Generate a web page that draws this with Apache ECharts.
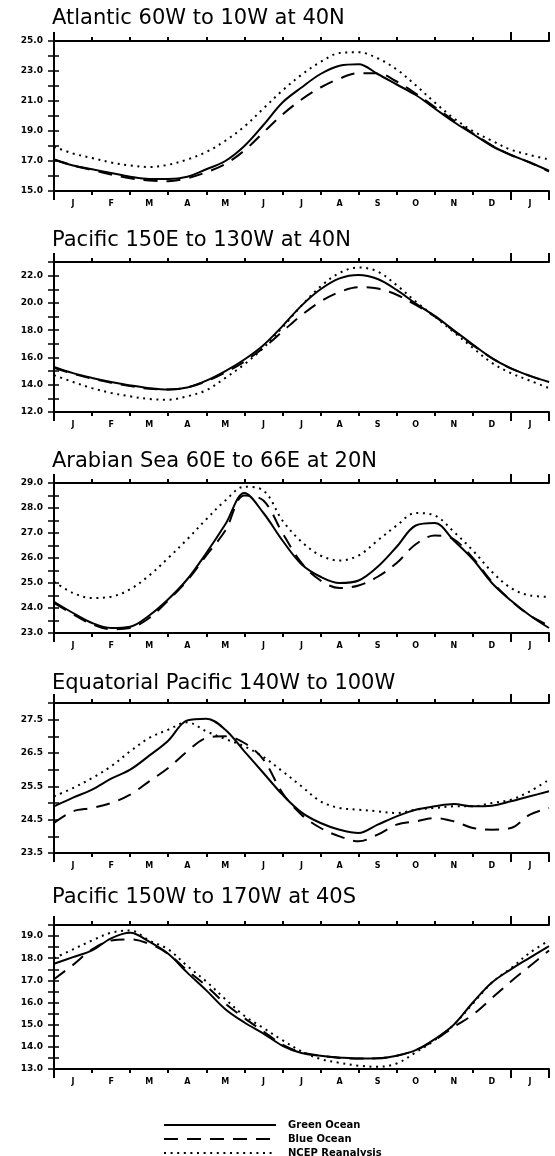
<!DOCTYPE html>
<html>
<head>
<meta charset="utf-8">
<script src="https://cdn.jsdelivr.net/npm/echarts@6/dist/echarts.min.js"></script>
<style>
html,body{margin:0;padding:0;background:#fff;}
#chart{width:555px;height:1156px;}
</style>
</head>
<body>
<div id="chart"></div>
<script>
// Month labels (13 months, Jan..Jan)
var monthLabels = ['J','F','M','A','M','J','J','A','S','O','N','D','J'];
// Sample positions in months from start of January
var monthPos = [0,0.5,1,1.5,2,2.5,3,3.5,4,4.5,5,5.5,6,6.5,7,7.5,8,8.5,9,9.5,10,10.5,11,11.5,12,12.5,13];

var panelTitles = [
  'Atlantic 60W to 10W at 40N',
  'Pacific 150E to 130W at 40N',
  'Arabian Sea 60E to 66E at 20N',
  'Equatorial Pacific 140W to 100W',
  'Pacific 150W to 170W at 40S'
];
var seriesNames = ['Green Ocean', 'Blue Ocean', 'NCEP Reanalysis'];

// y-axis ranges: [min, max, tick step, label step]
var yMin = [15, 12, 23, 23.5, 13];
var yMax = [25, 23, 29, 28, 19.5];
var yTick = [1, 1, 0.5, 0.5, 0.5];
var yLabelStep = [2, 2, 1, 1, 1];

// Panel 1: Atlantic
var atlGreen = [17.1,16.7,16.45,16.2,15.95,15.8,15.8,15.95,16.45,17.0,18.0,19.4,20.9,21.9,22.8,23.35,23.45,22.8,22.1,21.4,20.5,19.6,18.8,18.0,17.4,16.9,16.35];
var atlBlue  = [17.1,16.7,16.4,16.1,15.85,15.7,15.65,15.85,16.25,16.8,17.7,18.9,20.1,21.1,21.9,22.5,22.85,22.85,22.3,21.5,20.6,19.7,18.85,18.05,17.4,16.9,16.3];
var atlNcep  = [17.95,17.5,17.2,16.9,16.7,16.6,16.75,17.1,17.6,18.35,19.3,20.5,21.7,22.75,23.6,24.2,24.25,23.85,23.1,22.05,20.9,19.85,19.0,18.35,17.75,17.4,17.1];

// Panel 2: Pacific 40N
var pacNGreen = [15.3,14.85,14.5,14.2,13.95,13.75,13.65,13.8,14.3,15.0,15.85,16.9,18.3,19.8,21.0,21.8,22.05,21.75,20.95,19.95,19.05,18.0,16.95,15.95,15.2,14.65,14.2];
var pacNBlue  = [15.25,14.8,14.45,14.15,13.9,13.7,13.65,13.8,14.25,14.9,15.7,16.7,17.9,19.1,20.1,20.8,21.15,21.05,20.6,19.85,19.0,17.95,16.9,15.95,15.2,14.65,14.2];
var pacNNcep  = [14.7,14.2,13.75,13.4,13.15,12.95,12.9,13.15,13.6,14.5,15.5,16.7,18.2,19.8,21.2,22.2,22.6,22.3,21.3,20.1,19.0,17.85,16.7,15.6,14.85,14.3,13.75];

// Panel 3: Arabian Sea
var arbGreen = [24.25,23.8,23.4,23.2,23.25,23.7,24.35,25.15,26.2,27.35,28.6,27.8,26.7,25.75,25.25,25.0,25.1,25.65,26.45,27.3,27.4,26.7,25.95,25.0,24.3,23.7,23.2];
var arbBlue  = [24.2,23.75,23.35,23.15,23.2,23.6,24.3,25.1,26.1,27.1,28.5,28.3,27.0,25.8,25.1,24.8,24.9,25.25,25.8,26.55,26.9,26.75,26.0,25.05,24.3,23.7,23.3];
var arbNcep  = [25.05,24.6,24.4,24.45,24.75,25.3,26.0,26.75,27.55,28.3,28.85,28.7,27.5,26.65,26.1,25.9,26.1,26.7,27.3,27.8,27.7,27.05,26.3,25.45,24.8,24.5,24.45];

// Panel 4: Equatorial Pacific
var eqGreen = [24.9,25.16,25.4,25.73,26.0,26.42,26.87,27.48,27.53,27.2,26.55,25.9,25.25,24.72,24.4,24.2,24.1,24.35,24.6,24.8,24.9,24.97,24.9,24.92,25.05,25.2,25.35];
var eqBlue  = [24.4,24.75,24.85,25.0,25.25,25.65,26.05,26.55,26.95,27.0,26.8,26.3,25.3,24.65,24.25,24.0,23.85,24.05,24.35,24.45,24.55,24.45,24.25,24.2,24.25,24.65,24.85];
var eqNcep  = [25.2,25.45,25.75,26.1,26.55,26.95,27.2,27.42,27.15,26.92,26.7,26.38,25.95,25.5,25.05,24.85,24.8,24.75,24.7,24.8,24.85,24.9,24.9,25.0,25.1,25.35,25.7];

// Panel 5: Pacific 40S
var pacSGreen = [17.75,18.05,18.35,18.9,19.15,18.75,18.2,17.35,16.55,15.7,15.1,14.6,14.05,13.72,13.6,13.52,13.47,13.48,13.6,13.85,14.35,15.0,16.0,16.9,17.5,18.03,18.55];
var pacSBlue  = [17.05,17.7,18.4,18.8,18.85,18.65,18.2,17.45,16.75,15.95,15.3,14.7,14.1,13.75,13.6,13.5,13.47,13.48,13.6,13.85,14.3,14.9,15.45,16.2,16.95,17.65,18.35];
var pacSNcep  = [18.0,18.4,18.8,19.15,19.25,18.8,18.4,17.65,16.95,16.15,15.4,14.85,14.3,13.8,13.45,13.28,13.15,13.1,13.25,13.75,14.3,15.0,15.95,16.9,17.55,18.25,18.8];

var panelData = [
  [atlGreen, atlBlue, atlNcep],
  [pacNGreen, pacNBlue, pacNNcep],
  [arbGreen, arbBlue, arbNcep],
  [eqGreen, eqBlue, eqNcep],
  [pacSGreen, pacSBlue, pacSNcep]
];

// ---- layout ----
var gridTop = [41, 262, 483, 703, 925];
var gridH = [150, 150, 150, 150, 144];
var titleTop = [8, 230, 451, 673, 887];
var legendTop = [1115, 1129, 1143];
var lineTypes = ['solid', [14, 9], [2, 4.6]];

var black = '#000';
var option = {
  backgroundColor: '#fff',
  animation: false,
  title: [], grid: [], xAxis: [], yAxis: [], series: [],
  legend: seriesNames.map(function (n, i) {
    return {
      orient: 'vertical', left: 158, top: legendTop[i],
      itemWidth: 112, itemHeight: 12, itemGap: 0,
      data: [n],
      itemStyle: {opacity: 0},
      textStyle: {fontFamily: 'DejaVu Sans', fontWeight: 'bold', fontSize: 10, color: black, padding: [0,0,0,7]}
    };
  })
};

for (var p = 0; p < 5; p++) {
  option.title.push({
    text: panelTitles[p], left: 52, top: titleTop[p], padding: 0,
    textStyle: {fontFamily: 'DejaVu Sans', fontWeight: 'normal', fontSize: 21, color: black}
  });
  option.grid.push({left: 54, width: 495, top: gridTop[p], height: gridH[p]});
  var xi = option.xAxis.length;
  var catData = monthLabels.map(function (m, i) { return String(i); });
  // bottom month axis
  option.xAxis.push({
    type: 'category', gridIndex: p, position: 'bottom', data: catData, boundaryGap: true,
    axisLine: {show: true, lineStyle: {color: black, width: 2}},
    axisTick: {show: true, length: 4, lineStyle: {color: black, width: 2}},
    axisLabel: {show: true, margin: 9, formatter: function (v, i) { return monthLabels[i]; },
      fontFamily: 'DejaVu Sans', fontWeight: 'bold', fontSize: 8, color: black},
    splitLine: {show: false}
  });
  // top month axis
  option.xAxis.push({
    type: 'category', gridIndex: p, position: 'top', data: catData, boundaryGap: true,
    axisLine: {show: true, lineStyle: {color: black, width: 2}},
    axisTick: {show: true, length: 4, lineStyle: {color: black, width: 2}},
    axisLabel: {show: false}, splitLine: {show: false}
  });
  // value axis for data (bottom) with long year ticks
  option.xAxis.push({
    type: 'value', gridIndex: p, position: 'bottom', min: 0, max: 13, interval: 12,
    axisLine: {show: false},
    axisTick: {show: true, length: 9, lineStyle: {color: black, width: 2}},
    axisLabel: {show: false}, splitLine: {show: false}
  });
  option.xAxis.push({
    type: 'value', gridIndex: p, position: 'top', min: 0, max: 13, interval: 12,
    axisLine: {show: false},
    axisTick: {show: true, length: 9, lineStyle: {color: black, width: 2}},
    axisLabel: {show: false}, splitLine: {show: false}
  });
  var yi = option.yAxis.length;
  (function (pp) {
    option.yAxis.push({
      type: 'value', gridIndex: pp, position: 'left', min: yMin[pp], max: yMax[pp], interval: yTick[pp],
      axisLine: {show: true, lineStyle: {color: black, width: 2}},
      axisTick: {show: true, length: 6, lineStyle: {color: black, width: 1.5}},
      axisLabel: {show: true, margin: 11, fontFamily: 'DejaVu Sans', fontWeight: 'bold', fontSize: 9, color: black,
        formatter: function (v) {
          var k = (v - yMin[pp]) / yLabelStep[pp];
          if (Math.abs(k - Math.round(k)) > 1e-6) return '';
          return v.toFixed(1);
        }},
      splitLine: {show: false}
    });
    option.yAxis.push({
      type: 'value', gridIndex: pp, position: 'right', min: yMin[pp], max: yMax[pp], interval: yTick[pp],
      axisLine: {show: true, lineStyle: {color: black, width: 2}},
      axisTick: {show: true, length: 5, lineStyle: {color: black, width: 1.5}},
      axisLabel: {show: false}, splitLine: {show: false}
    });
  })(p);
  for (var s = 0; s < 3; s++) {
    var vals = panelData[p][s];
    option.series.push({
      type: 'line', name: seriesNames[s], xAxisIndex: xi + 2, yAxisIndex: yi,
      data: monthPos.map(function (m, i) { return [m, vals[i]]; }),
      smooth: 0.35, symbol: 'none', showSymbol: false,
      lineStyle: {color: black, width: 2, type: lineTypes[s]},
      itemStyle: {color: black}
    });
  }
}

var chart = echarts.init(document.getElementById('chart'), null, {renderer: 'canvas'});
chart.setOption(option);
</script>
</body>
</html>
